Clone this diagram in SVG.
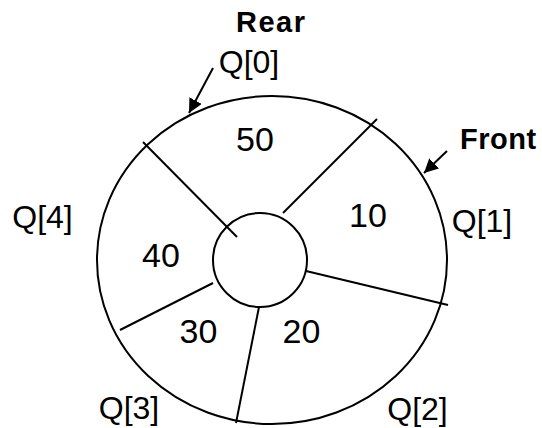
<svg xmlns="http://www.w3.org/2000/svg" width="542" height="428" viewBox="0 0 542 428">
  <style>
    .shape { fill: none; stroke: #000; stroke-width: 2; }
    .lbl { font-family: "Liberation Sans", Arial, sans-serif; font-size: 32px; fill: #000; text-anchor: middle; }
    .num { font-family: "Liberation Sans", Arial, sans-serif; font-size: 34px; fill: #000; text-anchor: middle; }
    .tag { font-family: "Liberation Sans", Arial, sans-serif; font-size: 29px; font-weight: bold; fill: #000; }
    .ptr { stroke: #000; stroke-width: 2; fill: none; }
  </style>
  <defs>
    <marker id="head" viewBox="0 0 10 10" refX="10" refY="5" markerWidth="7" markerHeight="7" orient="auto" markerUnits="strokeWidth">
      <path d="M0,0 L10,5 L0,10 z" fill="#000"/>
    </marker>
  </defs>
  <rect width="542" height="428" fill="#fff"/>

  <!-- circular queue ring -->
  <g id="ring">
    <ellipse class="shape" cx="272" cy="260" rx="175" ry="164"/>
    <circle class="shape" cx="260" cy="260" r="47"/>
  </g>

  <!-- slot dividers and pointer arrows -->
  <g id="connectors">
    <line class="shape" x1="143" y1="142" x2="237" y2="237"/>
    <line class="shape" x1="377" y1="119" x2="283" y2="213"/>
    <line class="shape" x1="306" y1="271" x2="448" y2="305"/>
    <line class="shape" x1="259" y1="307" x2="236" y2="423"/>
    <line class="shape" x1="213" y1="283" x2="120" y2="330"/>
    <line class="ptr" x1="213" y1="68" x2="189" y2="113" marker-end="url(#head)"/>
    <line class="ptr" x1="447" y1="151" x2="424" y2="173" marker-end="url(#head)"/>
  </g>

  <!-- slot values -->
  <g id="slot0"><text class="num" x="255" y="150.5">50</text></g>
  <g id="slot1"><text class="num" x="368" y="227">10</text></g>
  <g id="slot2"><text class="num" x="301.5" y="343">20</text></g>
  <g id="slot3"><text class="num" x="198.5" y="343">30</text></g>
  <g id="slot4"><text class="num" x="161" y="266.5">40</text></g>

  <!-- slot indices -->
  <g id="idx0"><text class="lbl" x="249" y="73">Q[0]</text></g>
  <g id="idx1"><text class="lbl" x="482" y="232">Q[1]</text></g>
  <g id="idx2"><text class="lbl" x="417.5" y="420">Q[2]</text></g>
  <g id="idx3"><text class="lbl" x="129" y="419">Q[3]</text></g>
  <g id="idx4"><text class="lbl" x="42.5" y="228">Q[4]</text></g>

  <!-- pointers -->
  <g id="rear"><text class="tag" x="236" y="31.5" letter-spacing="1.5">Rear</text></g>
  <g id="front"><text class="tag" x="460" y="149.3" letter-spacing="0.5">Front</text></g>
</svg>
